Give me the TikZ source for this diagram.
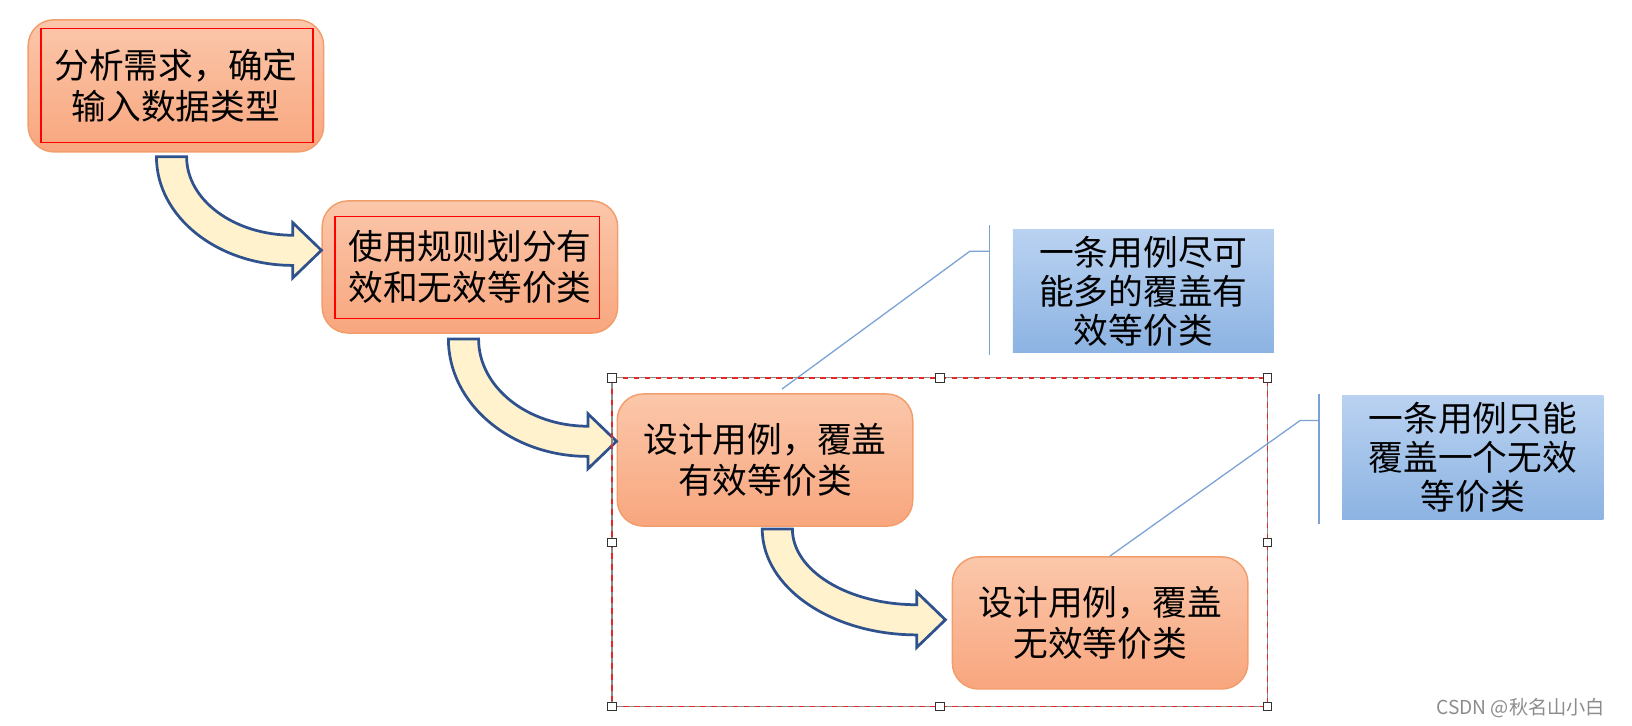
\documentclass[tikz,border=0pt]{standalone}
\usepackage{fontspec}
\setmainfont{Noto Sans CJK SC}
\usetikzlibrary{calc}

\definecolor{boxtop}{RGB}{251,199,170}
\definecolor{boxbot}{RGB}{248,166,126}
\definecolor{boxline}{RGB}{242,158,108}
\definecolor{arrowfill}{RGB}{255,242,204}
\definecolor{arrowline}{RGB}{47,82,143}
\definecolor{bluetop}{RGB}{186,210,241}
\definecolor{bluebot}{RGB}{140,179,226}
\definecolor{calloutline}{RGB}{122,162,212}
\definecolor{selred}{RGB}{228,40,40}

\tikzset{
  stepbox/.style={rounded corners=0.5cm, minimum width=5.68cm, minimum height=2.54cm,
    top color=boxtop, bottom color=boxbot, draw=boxline, line width=0.8pt,
    align=center, font=\fontsize{19pt}{22.5pt}\selectfont},
  notebox/.style={minimum width=5.02cm, minimum height=2.33cm,
    top color=bluetop, bottom color=bluebot, align=center,
    font=\fontsize{19pt}{21.5pt}\selectfont},
  redframe/.style={draw=red, line width=0.7pt},
  bendarrowstyle/.style={draw=arrowline, fill=arrowfill, line width=1.5pt, line join=miter},
  callout/.style={draw=calloutline, line width=0.7pt},
  handle/.style={draw=black!80, fill=white, line width=0.5pt, minimum size=0.16cm, inner sep=0pt},
  watermark/.style={text=black!45, font=\fontsize{10.5pt}{12pt}\selectfont}
}

% curved block arrow from the bottom of #1 to the left side of #2
\newcommand{\bendarrow}[4]{%
  \draw[bendarrowstyle] let \p1=($(#1.south west)+(#3)$), \p2=($(#2.west)+(#4)$) in
    (\p1) arc[start angle=180, end angle=270, x radius={\x2-\x1-0.55cm}, y radius={\y1-\y2+0.29cm}]
    -- (\x2-0.55cm,\y2-0.53cm) -- (\p2) -- (\x2-0.55cm,\y2+0.53cm) -- (\x2-0.55cm,\y2+0.29cm)
    arc[start angle=270, end angle=180, x radius={\x2-\x1-1.13cm}, y radius={\y1-\y2-0.29cm}]
    -- cycle;}

\begin{document}
\begin{tikzpicture}[x=0.02cm, y=0.02cm]
    \useasboundingbox (0,0) rectangle (1568,-696.6);

    % steps
    \node[stepbox] (b1) at (169,-82.5) {分析需求，确定\\输入数据类型};
    \node[stepbox] (b2) at (451.5,-256.5) {使用规则划分有\\效和无效等价类};
    \node[stepbox] (b3) at (735,-442) {设计用例，覆盖\\有效等价类};
    \node[stepbox] (b4) at (1057,-598.5) {设计用例，覆盖\\无效等价类};

    \draw[redframe] ($(b1.north west)+(13,-9)$) rectangle ($(b1.south east)+(-11,10)$);
    \draw[redframe] ($(b2.north west)+(13,-16)$) rectangle ($(b2.south east)+(-18,15)$);

    \bendarrow{b1}{b2}{124,-4}{0,16}
    \bendarrow{b2}{b3}{122,-5}{0,18}
    \bendarrow{b3}{b4}{140,-2}{-6,3}

    % notes
    \node[notebox] (n1) at (1098.5,-280) {一条用例尽可\\能多的覆盖有\\效等价类};
    \node[notebox] (n2) at (1415,-439.5) {一条用例只能\\覆盖一个无效\\等价类};

    \coordinate (c1) at ($(b3.north west)+(159,4)$);
    \coordinate (c2) at ($(b4.north west)+(152,0)$);
    \draw[callout] ($(n1.north west)+(-22,4)$) -- ($(n1.south west)+(-22,-2)$);
    \draw[callout] ($(n1.north west)+(-22,-21)$) -- ++(-19,0) -- (c1);
    \draw[callout] ($(n2.north west)+(-22,1)$) -- ($(n2.south west)+(-22,-4)$);
    \draw[callout] ($(n2.north west)+(-22,-24)$) -- ++(-18,0) -- (c2);

    % selection frame
    \coordinate (s1) at (588,-363);
    \coordinate (s2) at (1218,-679);
    \draw[black!45, line width=0.7pt] (s1) rectangle (s2);
    \draw[selred, dashed, line width=0.8pt] (s1) rectangle (s2);
    \foreach \hx/\hy [count=\i] in {588/363, 903/363, 1218/363, 588/521, 1218/521, 588/679, 903/679, 1218/679}
        \node[handle] (h\i) at (\hx,-\hy) {};

    \node[watermark] (wm) at (1461,-680) {CSDN @秋名山小白};

\end{tikzpicture}
\end{document}
